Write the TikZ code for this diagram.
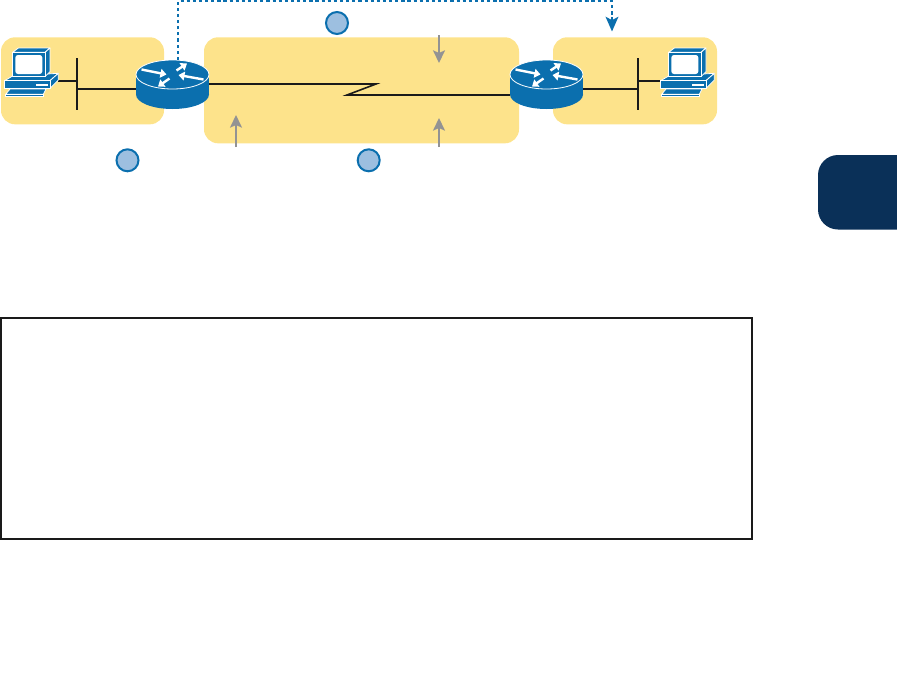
\documentclass[tikz,border=0pt]{standalone}
\usepackage{tikz}
\usetikzlibrary{arrows.meta,positioning}
\definecolor{zoneyellow}{HTML}{FDE38B}
\definecolor{ciscoblue}{HTML}{0B6FAE}
\definecolor{badgeblue}{HTML}{9DBFE0}
\definecolor{tabnavy}{HTML}{0A3058}
\definecolor{notegray}{HTML}{939393}
\definecolor{wireblack}{HTML}{1A1A1A}

\begin{document}
\begin{tikzpicture}[x=0.75pt, y=-0.75pt,
  zone/.style={fill=zoneyellow, rounded corners=10.5pt, inner sep=0pt, outer sep=0pt},
  ghost/.style={inner sep=0pt, outer sep=0pt},
  badge/.style={circle, draw=ciscoblue, fill=badgeblue, line width=1.5pt, minimum size=16.5pt, inner sep=0pt},
  wire/.style={draw=wireblack, line width=1.2pt},
  pointer/.style={draw=notegray, line width=1.2pt, -{Stealth[length=9.5pt, width=9pt, inset=2pt]}},
  mailflow/.style={draw=ciscoblue, line width=1.8pt, dash pattern=on 2.4pt off 2.2pt, -{Stealth[length=11pt, width=9.5pt, inset=2.5pt]}},
  icon/.style={fill=ciscoblue, draw=white, line width=0.6pt, line join=round},
  flowarrow/.style={draw=white, line width=1.8pt, -{Triangle[length=4.5pt, width=6.5pt]}},
  routericon/.pic={
    \fill[ciscoblue] (0,34.5) ellipse [x radius=36.5, y radius=14.5];
    \fill[ciscoblue] (-36.5,14.5) rectangle (36.5,34.5);
    \path[icon] (0,14.5) ellipse [x radius=36.5, y radius=14.5];
    \draw[flowarrow] (-31,9.5) -- (-6,14.5);
    \draw[flowarrow] (31,19.5) -- (6,15);
    \draw[flowarrow] (4,10.5) -- (14.5,3.5);
    \draw[flowarrow] (-3,18.5) -- (-14.5,26.5);
  },
  pcicon/.pic={
    \begin{scope}[scale=1/3]
      \path[icon] (0,98) -- (24,84) -- (161,76) -- (136,98) -- cycle;
      \path[icon] (136,98) -- (161,76) -- (161,96) -- (136,121) -- cycle;
      \path[icon] (0,98) rectangle (136,121);
      \fill[white] (94,108) rectangle (131,114);
      \path[icon] (24,13) -- (41,0) -- (136,0) -- (121,13) -- cycle;
      \path[icon] (121,13) -- (136,0) -- (136,71) -- (121,86) -- cycle;
      \path[icon] (24,13) rectangle (121,86);
      \fill[white, rounded corners=2pt] (32,21) rectangle (113,78);
      \path[icon] (3,139) -- (16,123) -- (124,123) -- (116,139) -- cycle;
      \path[icon] (3,139) rectangle (116,144);
    \end{scope}
  }]
  \useasboundingbox (0,0) rectangle (897,689);

  \node [zone, minimum width=122.25pt, minimum height=65.25pt] (zoneL) at (82.5,80.8) {};
  \node [zone, minimum width=236.25pt, minimum height=79.5pt] (zoneM) at (361.5,90.3) {};
  \node [zone, minimum width=123pt, minimum height=65.25pt] (zoneR) at (635,80.8) {};

  \fill [tabnavy, rounded corners=15pt] (905,155) -- (818,155) -- (818,229.5) -- (905,229.5);
  \node [draw=wireblack, line width=1.15pt, minimum width=563.25pt, minimum height=165.75pt, ghost] (notebox) at (376.5,428.5) {};

  \node [ghost, minimum width=54.75pt, minimum height=36.75pt] (rtrL) at (172.5,84.5) {};
  \node [ghost, minimum width=54.75pt, minimum height=36.75pt] (rtrR) at (546.5,84.5) {};
  \node [ghost, minimum width=40.25pt, minimum height=36pt] (pcL) at (31.5,72) {};
  \node [ghost, minimum width=40.25pt, minimum height=36pt] (pcR) at (687.5,72) {};

  \coordinate (busLtop) at (77,58);
  \coordinate (busLbot) at (77,110);
  \coordinate (busRtop) at (638,58);
  \coordinate (busRbot) at (638,110);
  \coordinate (tapL) at (77,81);
  \coordinate (tapR) at (638,81);
  \coordinate (trunkL) at (77,89);
  \coordinate (trunkR) at (638,89);
  \coordinate (kinkA) at (376,84);
  \coordinate (kinkB) at (347,95);

  \draw [wire] (busLtop) -- (busLbot);
  \draw [wire] (busRtop) -- (busRbot);
  \draw [wire] (pcL.east |- tapL) -- (tapL);
  \draw [wire] (pcR.west |- tapR) -- (tapR);
  \draw [wire] (trunkL) -- (rtrL.west |- trunkL);
  \draw [wire] (trunkR) -- (rtrR.east |- trunkR);
  \draw [wire, miter limit=20] (rtrL.east |- kinkA) -- (kinkA) -- (kinkB) -- (rtrR.west |- kinkB);

  \pic at (rtrL.north) {routericon};
  \pic at (rtrR.north) {routericon};
  \pic at (pcL.north west) {pcicon};
  \pic at (pcR.north west) {pcicon};

  \coordinate (mailL) at (178,1.2);
  \coordinate (mailR) at (612,1.2);
  \coordinate (mailEnd) at (612,31.5);
  \draw [mailflow] (rtrL.north -| mailL) -- (mailL) -- (mailR) -- (mailEnd);

  \coordinate (noteAfoot) at (236,147);
  \coordinate (noteAtip) at (236,115);
  \coordinate (noteBfoot) at (439,35);
  \coordinate (noteBtip) at (439,63);
  \coordinate (noteCfoot) at (439,147);
  \coordinate (noteCtip) at (439,118);
  \draw [pointer] (noteAfoot) -- (noteAtip);
  \draw [pointer] (noteBfoot) -- (noteBtip);
  \draw [pointer] (noteCfoot) -- (noteCtip);

  \node [badge] (badgeA) at (127.5,160.3) {};
  \node [badge] (badgeB) at (337,23) {};
  \node [badge] (badgeC) at (368.7,160.3) {};
\end{tikzpicture}
\end{document}
